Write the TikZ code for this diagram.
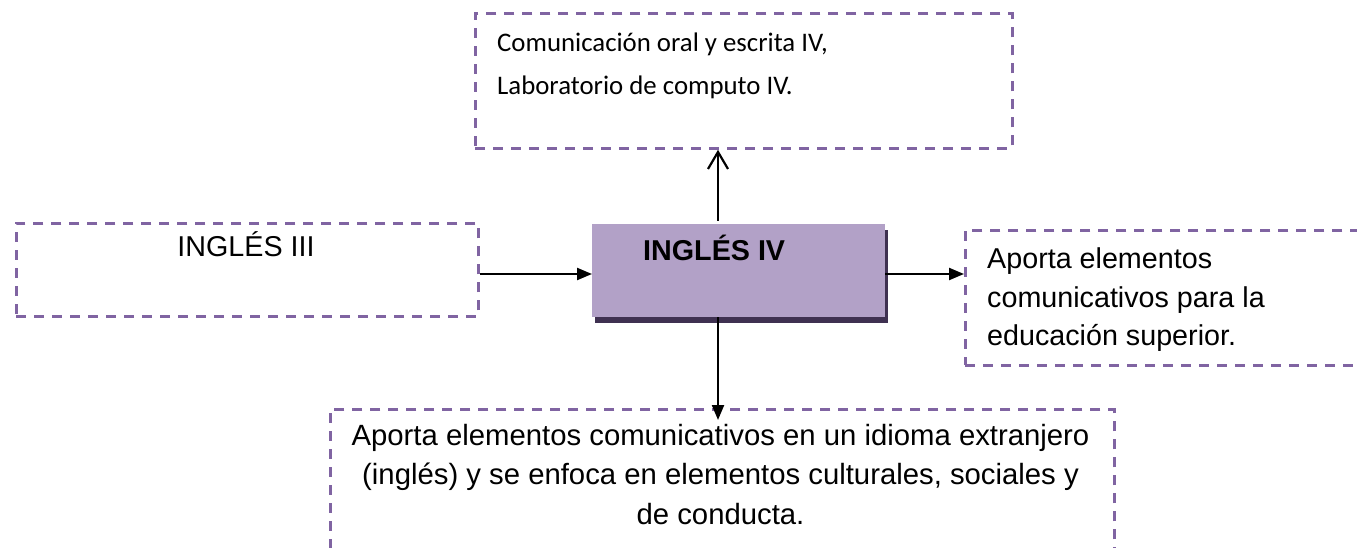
\documentclass[tikz,border=0pt]{standalone}
\usepackage{fontspec}
\setmainfont{Liberation Sans}
\newfontfamily\carl{Carlito}
\usetikzlibrary{arrows.meta,shadows}
\definecolor{dashc}{HTML}{8064A2}
\definecolor{fillc}{HTML}{B2A1C7}
\definecolor{shadc}{HTML}{3F3151}
\begin{document}
\begin{tikzpicture}[x=1pt,y=-1pt,
  dbox/.style={draw=dashc,line width=2.8pt,dash pattern=on 10pt off 8pt,rectangle,inner sep=0pt,anchor=north west},
  cbox/.style={fill=fillc,rectangle,inner sep=0pt,anchor=north west,
    drop shadow={shadow xshift=2.5pt,shadow yshift=-6pt,fill=shadc,opacity=1}},
  arr/.style={-{Triangle[length=15pt,width=12pt]},line width=2.2pt},
  openarr/.style={-{Straight Barb[length=17pt,width=20pt,line width=2.2pt]},line width=2.2pt},
  txt/.style={inner sep=0pt,anchor=base west},
  ctxt/.style={inner sep=0pt,anchor=base},
  fa/.style={font=\fontsize{28.7}{34}\selectfont},
  fb/.style={font=\fontsize{29.3}{34}\selectfont},
  fc/.style={font=\carl\fontsize{26.8}{32}\selectfont}]
\clip (0,0) rectangle (1357,548);
% boxes
\node[dbox,minimum width=537pt,minimum height=135pt] (top) at (474,12) {};
\node[dbox,minimum width=462pt,minimum height=93pt] (left) at (15,222) {};
\node[cbox,minimum width=293pt,minimum height=93pt] (ctr) at (592,224) {};
\node[dbox,minimum width=436pt,minimum height=135pt] (right) at (964,229) {};
\node[dbox,minimum width=784pt,minimum height=192pt] (bot) at (329,408) {};
% texts
\node[txt,fc] (t1) at (497,52) {Comunicación oral y escrita IV,};
\node[txt,fc] (t2) at (497,95) {Laboratorio de computo IV.};
\node[ctxt,fa] (l1) at (246,256) {INGLÉS III};
\node[txt,font=\fontsize{28.7}{34}\selectfont\bfseries] (c1) at (643,260) {INGLÉS IV};
\node[txt,fa] (r1) at (987,268) {Aporta elementos};
\node[txt,fa] (r2) at (987,307) {comunicativos para la};
\node[txt,fa] (r3) at (987,345) {educación superior.};
\node[ctxt,fb] (b1) at (720.5,445) {Aporta elementos comunicativos en un idioma extranjero};
\node[ctxt,fb] (b2) at (720.5,484) {(inglés) y se enfoca en elementos culturales, sociales y};
\node[ctxt,fb] (b3) at (720.5,524) {de conducta.};
% connectors
\coordinate (hy) at (0,274);
\coordinate (vx) at (718,0);
\coordinate (t0) at ([yshift=3pt]ctr.north);
\coordinate (b0) at ([yshift=-12pt]bot.north);
\draw[arr] (left.east |- hy) -- (ctr.west |- hy);
\draw[arr] (ctr.east |- hy) -- (right.west |- hy);
\draw[openarr] (t0 -| vx) -- (top.south -| vx);
\draw[arr] (ctr.south -| vx) -- (b0 -| vx);
\end{tikzpicture}
\end{document}
